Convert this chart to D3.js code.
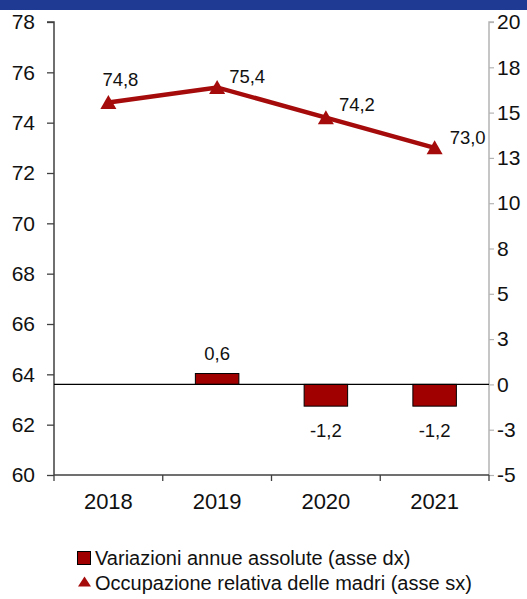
<!DOCTYPE html>
<html>
<head>
<meta charset="utf-8">
<script src="https://cdn.jsdelivr.net/npm/d3@7"></script>
<style>
  html, body { margin: 0; padding: 0; background: #fff; overflow: hidden; }
  svg { display: block; font-family: "Liberation Sans", Arial, sans-serif; }
</style>
</head>
<body>
<svg id="chart" width="527" height="599"></svg>
<script>
// ---- data ----
const categories = ["2018", "2019", "2020", "2021"];
const occupazioneMadri = [74.8, 75.4, 74.2, 73.0];      // left axis (line)
const variazioniAnnue = [null, 0.6, -1.2, -1.2];          // right axis (bars)
const leftTicks = [60, 62, 64, 66, 68, 70, 72, 74, 76, 78];
const rightTicks = [-5, -2.5, 0, 2.5, 5, 7.5, 10, 12.5, 15, 17.5, 20];
const rightTickLabels = ["-5", "-3", "0", "3", "5", "8", "10", "13", "15", "18", "20"];
const legendLabels = ["Variazioni annue assolute (asse dx)", "Occupazione relativa delle madri (asse sx)"];

// ---- layout ----
const W = 527, H = 599;
const plot = { left: 54, right: 489, top: 22, bottom: 475 };
const lineColor = "#A50B0B";
const barColor = "#A00000";
const fmt = v => d3.format(".1f")(v).replace(".", ",").replace("\u2212", "-");
const lineLabelOffsets = [[-6, -23], [12, -11], [13, -13], [15, -10]];

const svg = d3.select("#chart");

// top band
svg.append("rect").attr("x", 0).attr("y", 0).attr("width", W).attr("height", 10).attr("fill", "#1F3A93");

const x = d3.scaleBand().domain(categories).range([plot.left, plot.right]);
const yL = d3.scaleLinear().domain([60, 78]).range([plot.bottom, plot.top]);
const yR = d3.scaleLinear().domain([-5, 20]).range([plot.bottom, plot.top]);

// left axis
const gL = svg.append("g").attr("transform", `translate(${plot.left},0)`)
  .call(d3.axisLeft(yL).tickValues(leftTicks).tickSize(7).tickPadding(12).tickFormat(d3.format("d")));
gL.select(".domain").attr("stroke", "#404040").attr("stroke-width", 1.5).attr("d", `M-7,${plot.top}H0V${plot.bottom}`);
gL.selectAll(".tick line").attr("stroke", "#404040").attr("stroke-width", 1.3);
gL.selectAll(".tick text").attr("font-size", 21).attr("fill", "#111");

// right axis
const gR = svg.append("g").attr("transform", `translate(${plot.right},0)`)
  .call(d3.axisRight(yR).tickValues(rightTicks).tickSize(5).tickPadding(3)
    .tickFormat((d, i) => rightTickLabels[i]));
gR.select(".domain").attr("stroke", "#b4b4b4").attr("stroke-width", 1.5).attr("d", `M5,${plot.top}H0V${plot.bottom}`);
gR.selectAll(".tick line").attr("stroke", "#b4b4b4").attr("stroke-width", 1.2);
gR.selectAll(".tick text").attr("x", 8).attr("font-size", 21).attr("fill", "#111");

// x axis (bottom) with ticks between categories
const boundaries = categories.map(c => x(c)).concat([plot.right]);
const gX = svg.append("g");
gX.append("line").attr("x1", plot.left).attr("x2", plot.right).attr("y1", plot.bottom).attr("y2", plot.bottom)
  .attr("stroke", "#404040").attr("stroke-width", 1.5);
gX.selectAll("line.t").data(boundaries).join("line").attr("class", "t")
  .attr("x1", d => d).attr("x2", d => d).attr("y1", plot.bottom).attr("y2", plot.bottom + 6)
  .attr("stroke", "#404040").attr("stroke-width", 1.3);
gX.selectAll("text").data(categories).join("text")
  .attr("x", d => x(d) + x.bandwidth() / 2).attr("y", plot.bottom + 34)
  .attr("text-anchor", "middle").attr("font-size", 22).attr("fill", "#111").text(d => d);

// bars
const barW = x.bandwidth() * 0.4;
const barData = categories.map((c, i) => ({ c, v: variazioniAnnue[i] })).filter(d => d.v !== null);
svg.append("g").selectAll("rect").data(barData).join("rect")
  .attr("x", d => x(d.c) + x.bandwidth() / 2 - barW / 2)
  .attr("width", barW)
  .attr("y", d => Math.min(yR(d.v), yR(0)))
  .attr("height", d => Math.abs(yR(d.v) - yR(0)))
  .attr("fill", barColor).attr("stroke", "#000").attr("stroke-width", 1);

// zero line
svg.append("line").attr("x1", plot.left).attr("x2", plot.right).attr("y1", yR(0)).attr("y2", yR(0))
  .attr("stroke", "#000").attr("stroke-width", 1.2);

// bar labels
svg.append("g").selectAll("text").data(barData).join("text")
  .attr("x", d => x(d.c) + x.bandwidth() / 2)
  .attr("y", d => d.v >= 0 ? yR(d.v) - 14 : yR(d.v) + 31)
  .attr("text-anchor", "middle").attr("font-size", 18.5).attr("fill", "#111")
  .text(d => fmt(d.v));

// line
const pts = categories.map((c, i) => ({ c, v: occupazioneMadri[i], px: x(c) + x.bandwidth() / 2, py: yL(occupazioneMadri[i]) }));
svg.append("path").datum(pts)
  .attr("d", d3.line().x(d => d.px).y(d => d.py))
  .attr("fill", "none").attr("stroke", lineColor).attr("stroke-width", 4.5);

const tri = "M0,-7.5L8,6.5L-8,6.5Z";
svg.append("g").selectAll("path").data(pts).join("path")
  .attr("transform", d => `translate(${d.px},${d.py})`)
  .attr("d", tri).attr("fill", lineColor);

svg.append("g").selectAll("text").data(pts).join("text")
  .attr("x", (d, i) => d.px + lineLabelOffsets[i][0])
  .attr("y", (d, i) => d.py + lineLabelOffsets[i][1])
  .attr("dominant-baseline", "central")
  .attr("font-size", 18.5).attr("fill", "#111")
  .text(d => fmt(d.v));

// legend
const lg = svg.append("g");
lg.append("rect").attr("x", 77.5).attr("y", 551.5).attr("width", 13).attr("height", 13)
  .attr("fill", barColor).attr("stroke", "#000").attr("stroke-width", 1);
lg.append("text").attr("x", 95).attr("y", 565).attr("font-size", 20).attr("fill", "#111").text(legendLabels[0]);
lg.append("path").attr("transform", "translate(84.5,582)").attr("d", "M0,-5.5L6.5,4.5L-6.5,4.5Z").attr("fill", lineColor);
lg.append("text").attr("x", 95).attr("y", 590).attr("font-size", 20).attr("fill", "#111").text(legendLabels[1]);
</script>
</body>
</html>
